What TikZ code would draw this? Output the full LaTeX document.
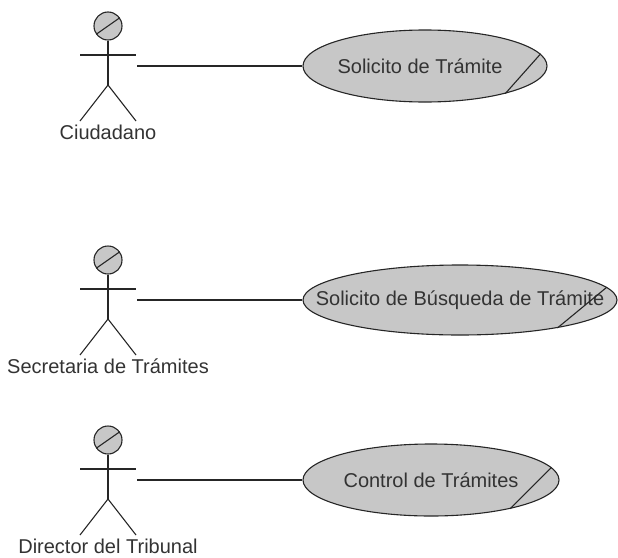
\documentclass[tikz,border=0pt]{standalone}
\usepackage{fontspec}
\setmainfont{Liberation Sans}
\usetikzlibrary{shapes.geometric}

\tikzset{
  uml/.style={draw=black!85, line width=1.1pt},
  usecase/.style={ellipse, uml, fill=black!22, inner sep=0pt},
  caselabel/.style={font=\fontsize{20}{24}\selectfont, text=black!80, inner sep=0pt},
  actor/.pic={
    \node[circle, uml, fill=black!22, minimum size=28pt, inner sep=0pt] (-head) at (0,0) {};
    \draw[uml] (-head.215) -- (-head.35);
    \draw[uml] (-28,29) -- (28,29);
    \draw[uml] (-head.south) -- (0,59) coordinate (-hip);
    \draw[uml] (-28,95) -- (-hip) -- (28,95);
    \coordinate (-hand) at (29,40);
    \node[caselabel, anchor=base] (-name) at (0,113) {#1};
  }
}

\begin{document}
\begin{tikzpicture}[x=1pt, y=-1pt]
  \useasboundingbox (0,0) rectangle (618,557);

  % actors
  \pic (ciud) at (108,26) {actor=Ciudadano};
  \pic (secr) at (108,260) {actor=Secretaria de Trámites};
  \pic (dire) at (108,440) {actor=Director del Tribunal};

  % use cases
  \node[usecase, minimum width=244pt, minimum height=72pt,
    label={[caselabel, xshift=-5pt]center:Solicito de Trámite}] (tramite) at (425,66) {};
  \node[usecase, minimum width=314pt, minimum height=70pt,
    label={[caselabel]center:Solicito de Búsqueda de Trámite}] (busqueda) at (460,300) {};
  \node[usecase, minimum width=256pt, minimum height=72pt,
    label={[caselabel]center:Control de Trámites}] (control) at (431,480) {};

  \draw[uml] (tramite.6) -- (tramite.-19);
  \draw[uml] (busqueda.5) -- (busqueda.-16);
  \draw[uml] (control.6) -- (control.-20);

  % associations
  \draw[uml] (ciud-hand) -- (tramite.west);
  \draw[uml] (secr-hand) -- (busqueda.west);
  \draw[uml] (dire-hand) -- (control.west);
\end{tikzpicture}
\end{document}
